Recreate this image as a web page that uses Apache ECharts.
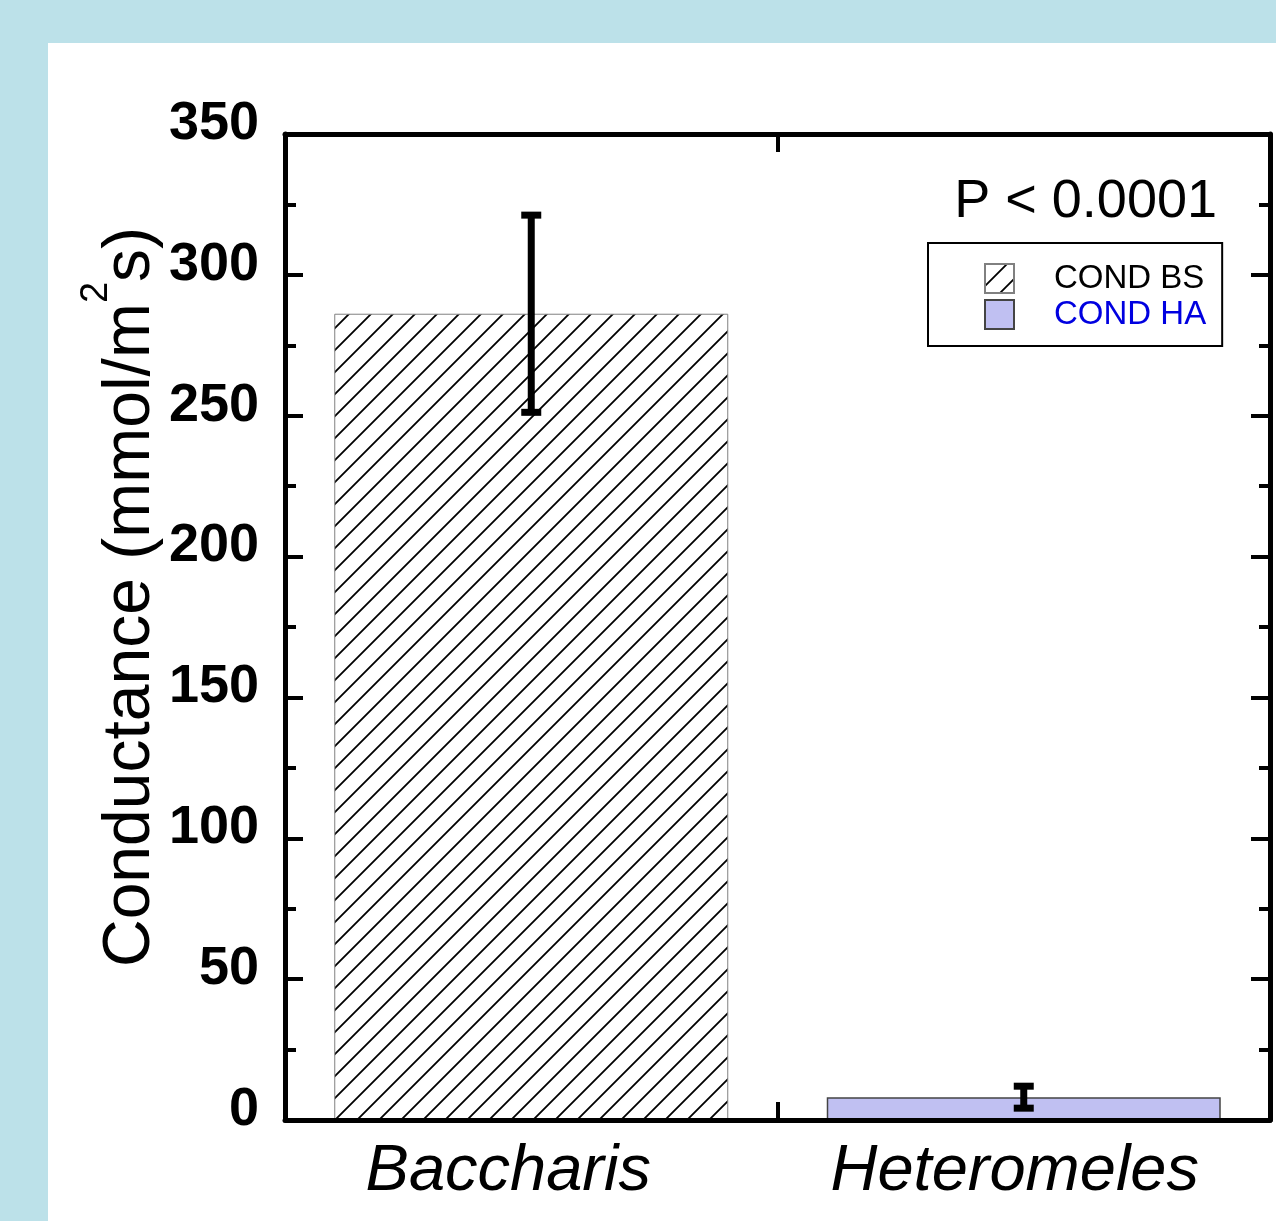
<!DOCTYPE html>
<html>
<head>
<meta charset="utf-8">
<script src="https://cdn.jsdelivr.net/npm/echarts@6/dist/echarts.min.js"></script>
<style>
  html, body { margin: 0; padding: 0; background: #bce1e9; }
  #chart { position: absolute; left: 48px; top: 43px; width: 1228px; height: 1178px; background: #fff; }
</style>
</head>
<body>
<div id="chart"></div>
<script>
var categories = ['Baccharis', 'Heteromeles'];
var seriesNames = ['COND BS', 'COND HA'];
var means = [286.2, 8.1];
var errors = [35.0, 3.9];
var yMin = 0, yMax = 350, yStep = 50;
var pText = 'P < 0.0001';

var FONT = '"Liberation Sans", Arial, sans-serif';

// hatch pattern for the first bar
function makeHatch() {
    var s = 22;
    var c = document.createElement('canvas');
    c.width = s; c.height = s;
    var g = c.getContext('2d');
    g.fillStyle = '#fff';
    g.fillRect(0, 0, s, s);
    g.strokeStyle = '#000';
    g.lineWidth = 1.8;
    g.beginPath();
    g.moveTo(0, s); g.lineTo(s, 0);
    g.moveTo(-2, 2); g.lineTo(2, -2);
    g.moveTo(s - 2, s + 2); g.lineTo(s + 2, s - 2);
    g.stroke();
    return c;
}

var errData = [];
for (var i = 0; i < categories.length; i++) {
    errData.push([i, means[i] - errors[i], means[i] + errors[i]]);
}

function renderErr(params, api) {
    var lo = api.coord([api.value(0), api.value(1)]);
    var hi = api.coord([api.value(0), api.value(2)]);
    var x = lo[0], w = 7, cap = 10;
    return {
        type: 'group',
        children: [
            { type: 'rect', shape: { x: x - w / 2, y: hi[1], width: w, height: lo[1] - hi[1] }, style: { fill: '#000' } },
            { type: 'rect', shape: { x: x - cap, y: hi[1] - w / 2, width: cap * 2, height: w }, style: { fill: '#000' } },
            { type: 'rect', shape: { x: x - cap, y: lo[1] - w / 2, width: cap * 2, height: w }, style: { fill: '#000' } }
        ]
    };
}

var myChart = echarts.init(document.getElementById('chart'));

var axisLine = { show: true, onZero: false, lineStyle: { color: '#000', width: 5 } };
var majorTick = { show: true, inside: true, length: 18, lineStyle: { color: '#000', width: 4 } };

var option = {
    animation: false,
    textStyle: { fontFamily: FONT },
    grid: { left: 237, top: 91, right: 6, bottom: 101, containLabel: false, outerBoundsMode: 'none' },
    legend: {
        orient: 'vertical',
        left: 880,
        top: 200,
        itemWidth: 29,
        itemHeight: 29,
        itemGap: 3,
        padding: [19, 16, 15, 56],
        borderColor: '#000',
        borderWidth: 2,
        icon: 'rect',
        textStyle: { fontSize: 33, fontFamily: FONT, padding: [0, 0, 0, 35] },
        data: [
            { name: seriesNames[0], textStyle: { color: '#000' } },
            { name: seriesNames[1], textStyle: { color: '#0000e0' } }
        ]
    },
    graphic: [{
        type: 'text',
        x: 1169,
        y: 159,
        style: {
            text: pText,
            font: '54px ' + FONT,
            fill: '#000',
            textAlign: 'right',
            textVerticalAlign: 'middle'
        }
    }],
    xAxis: [{
        type: 'category',
        data: [
            { value: categories[0], textStyle: { padding: [0, 46, 0, 0] } },
            { value: categories[1], textStyle: { padding: [0, 18, 0, 0] } }
        ],
        position: 'bottom',
        z: 5,
        axisLine: axisLine,
        axisTick: majorTick,
        axisLabel: { fontSize: 65, fontStyle: 'italic', color: '#000', margin: 19, fontFamily: FONT },
        splitLine: { show: false }
    }, {
        type: 'category',
        data: categories,
        position: 'top',
        z: 5,
        axisLine: axisLine,
        axisTick: majorTick,
        axisLabel: { show: false },
        splitLine: { show: false }
    }],
    yAxis: [{
        type: 'value',
        min: yMin,
        max: yMax,
        interval: yStep,
        position: 'left',
        z: 5,
        name: '{m|Conductance (mmol/m}{sup|2}{m|s)}',
        nameLocation: 'middle',
        nameGap: 121,
        nameMoveOverlap: false,
        nameTextStyle: {
            fontFamily: FONT,
            color: '#000',
            padding: [0, 0, 0, 60],
            rich: {
                m: { fontSize: 66, lineHeight: 86, verticalAlign: 'bottom', fontFamily: FONT, color: '#000' },
                sup: { fontSize: 38, lineHeight: 21, verticalAlign: 'top', fontFamily: FONT, color: '#000' }
            }
        },
        axisLine: axisLine,
        axisTick: majorTick,
        minorTick: { show: true, splitNumber: 2, length: 11, lineStyle: { color: '#000', width: 4 } },
        axisLabel: { fontSize: 54, fontWeight: 'bold', color: '#000', margin: 26, lineHeight: 20, verticalAlign: 'bottom', fontFamily: FONT },
        splitLine: { show: false },
        minorSplitLine: { show: false }
    }, {
        type: 'value',
        min: yMin,
        max: yMax,
        interval: yStep,
        position: 'right',
        z: 5,
        axisLine: axisLine,
        axisTick: { show: true, inside: true, length: 19, lineStyle: { color: '#000', width: 4 } },
        minorTick: { show: true, splitNumber: 2, length: 11, lineStyle: { color: '#000', width: 4 } },
        axisLabel: { show: false },
        splitLine: { show: false },
        minorSplitLine: { show: false }
    }],
    series: [{
        name: seriesNames[0],
        type: 'bar',
        barWidth: '80%',
        barGap: '-100%',
        data: [means[0], '-'],
        itemStyle: { color: { image: makeHatch(), repeat: 'repeat' }, borderColor: '#808080', borderWidth: 1 }
    }, {
        name: seriesNames[1],
        type: 'bar',
        barWidth: '80%',
        barGap: '-100%',
        data: ['-', means[1]],
        itemStyle: { color: '#c0c0f2', borderColor: '#444', borderWidth: 1.5 }
    }, {
        name: 'err',
        type: 'custom',
        z: 4,
        renderItem: renderErr,
        encode: { x: 0, y: [1, 2] },
        data: errData
    }]
};

myChart.setOption(option);
</script>
</body>
</html>
